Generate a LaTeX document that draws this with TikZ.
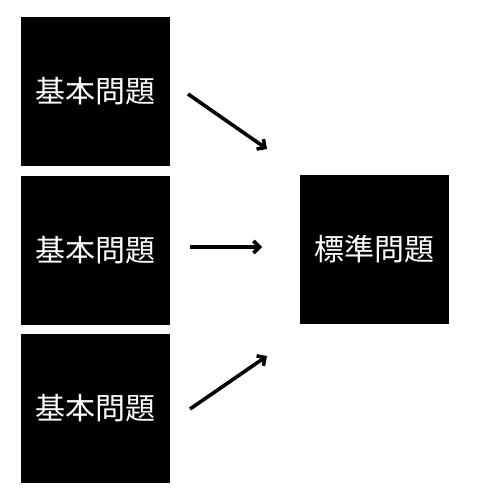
\documentclass[tikz,border=0pt]{standalone}
\usepackage{fontspec}
\newfontfamily\jpfont{Noto Sans CJK JP}
\usetikzlibrary{arrows.meta}
\begin{document}
\begin{tikzpicture}[x=1pt,y=-1pt,
  box/.style={fill=black,draw=none,minimum width=149pt,minimum height=149pt,inner sep=0pt,text=white,font=\jpfont\fontsize{30}{33}\selectfont},
  conn/.style={line width=3.6pt,-{Straight Barb[length=6pt,width=12pt,line width=3.6pt]}}]
\useasboundingbox (0,0) rectangle (500,500);
\node[box] (b1) at (95.5,91.5) {基本問題};
\node[box] (b2) at (95.5,250) {基本問題};
\node[box] (b3) at (95.5,408) {基本問題};
\node[box] (s) at (374.5,249.5) {標準問題};
\coordinate (a1s) at (188,94);
\coordinate (a1e) at (267,149);
\coordinate (a2s) at (190,247);
\coordinate (a2e) at (262,247);
\coordinate (a3s) at (190,409);
\coordinate (a3e) at (267,356);
\draw[conn] (a1s) -- (a1e);
\draw[conn] (a2s) -- (a2e);
\draw[conn] (a3s) -- (a3e);
\end{tikzpicture}
\end{document}
